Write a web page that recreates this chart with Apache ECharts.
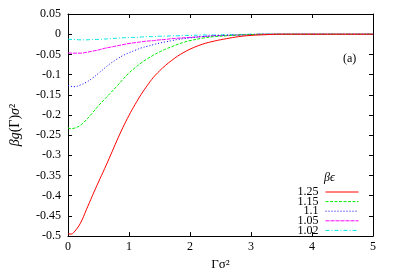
<!DOCTYPE html>
<html><head><meta charset="utf-8">
<script src="https://cdn.jsdelivr.net/npm/echarts@6/dist/echarts.min.js"></script>
<style>html,body{margin:0;padding:0;background:#fff}#c{width:395px;height:276px}</style>
</head><body><div id="c"></div>
<script>
const gamma = [0,0.05,0.1,0.2,0.3,0.4,0.5,0.6,0.7,0.8,0.9,1.0,1.1,1.2,1.3,1.4,1.5,1.6,1.7,1.8,1.9,2.0,2.2,2.4,2.6,2.8,3.0,3.2,3.5,4.0,4.5,5.0];
const seriesNames = ['1.25','1.15','1.1','1.05','1.02'];
const g125 = [-0.494,-0.495,-0.490,-0.469,-0.435,-0.400,-0.366,-0.333,-0.299,-0.264,-0.231,-0.201,-0.174,-0.149,-0.127,-0.107,-0.091,-0.077,-0.065,-0.054,-0.045,-0.037,-0.025,-0.017,-0.011,-0.006,-0.003,-0.0015,0,0,0,0];
const g115 = [-0.232,-0.234,-0.233,-0.226,-0.212,-0.195,-0.177,-0.161,-0.145,-0.129,-0.112,-0.096,-0.083,-0.071,-0.061,-0.052,-0.044,-0.037,-0.031,-0.025,-0.020,-0.016,-0.010,-0.006,-0.004,-0.002,-0.001,0,0,0,0,0];
const g110 = [-0.127,-0.129,-0.130,-0.126,-0.119,-0.109,-0.097,-0.084,-0.072,-0.062,-0.053,-0.046,-0.040,-0.034,-0.030,-0.026,-0.022,-0.019,-0.016,-0.013,-0.011,-0.009,-0.006,-0.004,-0.003,-0.002,-0.001,0,0,0,0,0];
const g105 = [-0.046,-0.047,-0.047,-0.047,-0.045,-0.042,-0.039,-0.035,-0.032,-0.029,-0.026,-0.023,-0.021,-0.019,-0.017,-0.016,-0.014,-0.013,-0.011,-0.010,-0.009,-0.008,-0.006,-0.004,-0.003,-0.002,-0.001,0,0,0,0,0];
const g102 = [-0.012,-0.013,-0.013,-0.014,-0.014,-0.013,-0.013,-0.012,-0.011,-0.010,-0.009,-0.008,-0.008,-0.007,-0.006,-0.006,-0.005,-0.005,-0.004,-0.004,-0.003,-0.003,-0.002,-0.002,-0.001,-0.001,0,0,0,0,0,0];
const xTicks = [0,1,2,3,4,5];

const allVals = [g125,g115,g110,g105,g102];
const colors = ['#ff0000','#00ee00','#0000ff','#ff00ff','#00e5e5'];
const dashes = ['solid',[3,1.5],[1,2],[4,1],[4,2,1,2]];
const serif = '"Liberation Serif","DejaVu Serif",serif';

const chart = echarts.init(document.getElementById('c'), null, {renderer:'canvas'});
const axisCommon = {
  axisLine:{show:true,onZero:false,lineStyle:{color:'#000',width:1}},
  axisTick:{show:true,inside:true,length:4,lineStyle:{color:'#000'}},
  splitLine:{show:false}
};
chart.setOption({
  animation:false,
  backgroundColor:'#fff',
  grid:{left:67,right:22,top:14,bottom:39},
  legend:{
    orient:'vertical', right:31, top:181, align:'right',
    itemWidth:33, itemHeight:8, itemGap:-2.4,
    itemStyle:{opacity:0},
    lineStyle:{width:1},
    textStyle:{fontFamily:serif,fontSize:12,color:'#000',lineHeight:12,padding:[0,2,0,0]},
    data:seriesNames
  },
  xAxis:[
    Object.assign({type:'value',min:0,max:5,interval:1,position:'bottom',
      name:'Γσ²',nameLocation:'middle',nameGap:21,
      nameTextStyle:{fontFamily:serif,fontSize:13,color:'#000'},
      axisLabel:{fontFamily:serif,fontSize:12,color:'#000',margin:5,
        formatter:v=>String(v)}},axisCommon),
    Object.assign({type:'value',min:0,max:5,interval:1,position:'top',axisLabel:{show:false}},axisCommon)
  ],
  yAxis:[
    Object.assign({type:'value',min:-0.5,max:0.05,interval:0.05,position:'left',
      name:'{i|βg}(Γ){i|σ}²',nameLocation:'middle',nameGap:46,nameRotate:90,
      nameTextStyle:{fontFamily:serif,fontSize:14,color:'#000',rich:{i:{fontFamily:serif,fontSize:14,fontStyle:'italic',color:'#000'}}},
      axisLabel:{fontFamily:serif,fontSize:12,color:'#000',margin:7,
        formatter:v=>{const r=parseFloat(v.toFixed(2));return r===0?'0':String(r);}}},axisCommon),
    Object.assign({type:'value',min:-0.5,max:0.05,interval:0.05,position:'right',axisLabel:{show:false}},axisCommon)
  ],
  graphic:[
    {type:'text',left:324,top:172,style:{text:'βϵ',font:'italic 12px '+serif,fill:'#000'}},
    {type:'text',left:343,top:53,style:{text:'(a)',font:'12px '+serif,fill:'#000'}}
  ],
  series:seriesNames.map((n,i)=>({
    name:n,type:'line',showSymbol:false,symbol:'none',smooth:0.4,
    lineStyle:{color:colors[i],width:1,type:dashes[i]},
    itemStyle:{color:colors[i]},
    z:10-i,
    data:gamma.map((x,k)=>[x,allVals[i][k]])
  }))
});
</script></body></html>
